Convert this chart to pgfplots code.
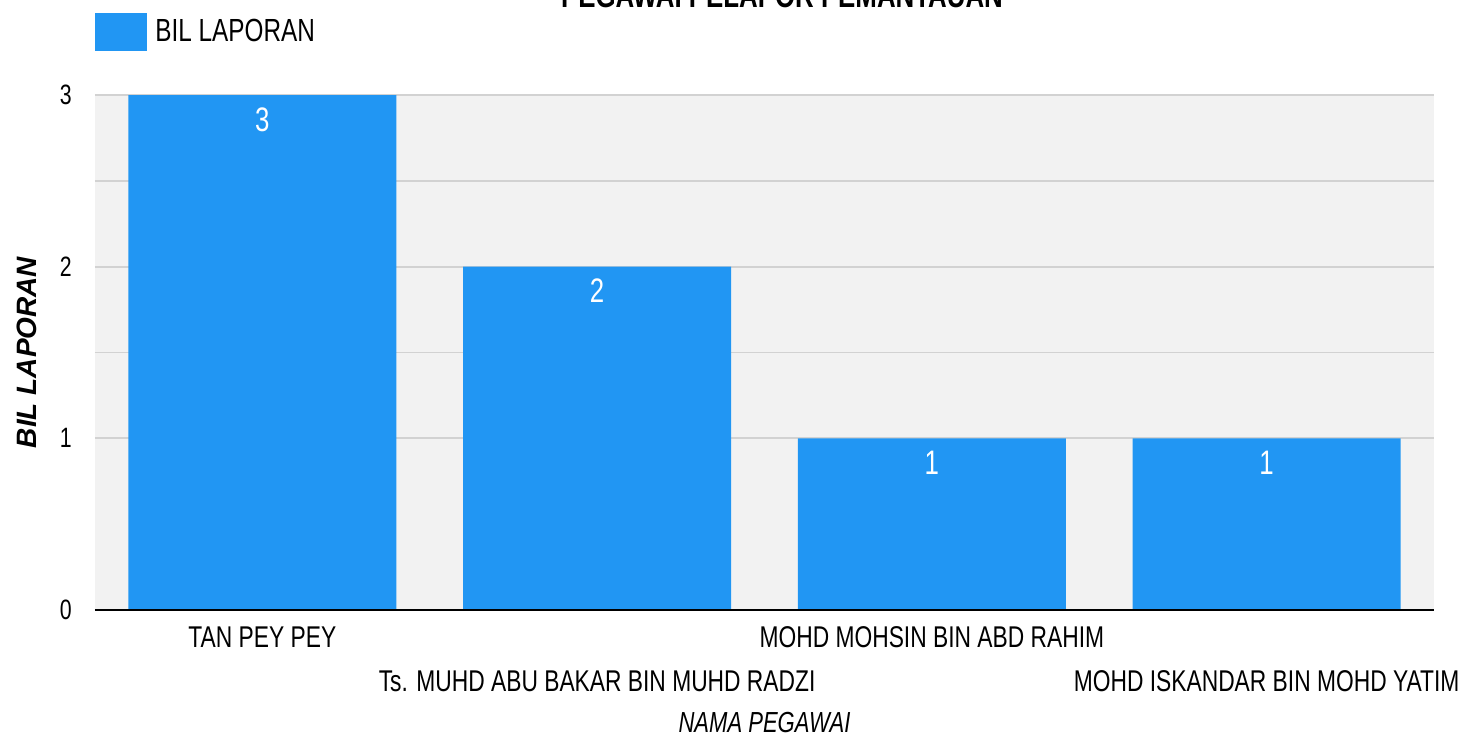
\documentclass[border=0pt]{standalone}
\usepackage{fontspec}
\setmainfont{Liberation Sans}[FakeStretch=0.76]
\newfontfamily\widefont{Liberation Sans}
\usepackage{pgfplots}
\pgfplotsset{compat=1.18}
\definecolor{barblue}{HTML}{2196F3}
\definecolor{plotbg}{HTML}{F2F2F2}
\definecolor{gridgray}{HTML}{D2D2D2}

\begin{document}
\begin{tikzpicture}
\begin{axis}[
  scale only axis,
  width=669.5pt, height=257.5pt,
  xmin=-0.5, xmax=3.5, ymin=0, ymax=3,
  ybar, bar width=0.8,
  axis background/.style={fill=plotbg},
  axis line style={draw=none},
  major tick length=0pt, minor tick length=0pt,
  ytick={1,2,3}, minor y tick num=1,
  extra y ticks={0},
  ymajorgrids, yminorgrids,
  grid style={gridgray, line width=0.9pt},
  /pgf/number format/assume math mode=true,
  yticklabel style={font=\fontsize{14}{16}\selectfont, inner sep=0pt, xshift=-11.5pt},
  xtick={0,2},
  xticklabels={TAN PEY PEY, MOHD MOHSIN BIN ABD RAHIM},
  extra x ticks={1,3},
  extra x tick labels={Ts. MUHD ABU BAKAR BIN MUHD RADZI, MOHD ISKANDAR BIN MOHD YATIM},
  extra x tick style={xticklabel style={yshift=-22pt}, xmajorgrids=false},
  xticklabel style={font=\fontsize{15}{17}\selectfont, inner sep=0pt, yshift=-8pt, text=black},
  xlabel={NAMA PEGAWAI},
  xlabel style={at={(axis description cs:0.5,-0.2175)}, anchor=center, font=\fontsize{14.5}{17}\selectfont\itshape},
  ylabel={BIL LAPORAN},
  ylabel style={at={(axis description cs:-0.0508,0.5)}, anchor=center, font=\widefont\fontsize{14}{16}\selectfont\bfseries\itshape},
  nodes near coords,
  nodes near coords style={white, anchor=north, inner sep=0pt, yshift=-6pt, font=\fontsize{17}{19}\selectfont},
  legend style={at={(axis description cs:0,1)}, anchor=west, yshift=31.5pt, draw=none, fill=none, inner sep=0pt,
    font=\fontsize{16}{18}\selectfont, legend cell align=left},
  legend image code/.code={\fill[barblue] (0pt,-9.5pt) rectangle (26pt,9.5pt);},
  clip=false,
]
\addplot[fill=barblue, draw=none] coordinates {(0,3) (1,2) (2,1) (3,1)};
\addlegendentry{\hspace{2pt}BIL LAPORAN}
\draw[black, line width=1.1pt] (rel axis cs:0,0) -- (rel axis cs:1,0);
\node[font=\fontsize{17}{19}\selectfont\bfseries, anchor=base] at ([xshift=8.75pt, yshift=44pt]rel axis cs:0.5,1) {PEGAWAI PELAPOR PEMANTAUAN};
\coordinate (o) at (rel axis cs:0,0);
\end{axis}
\pgfresetboundingbox
\useasboundingbox ([xshift=-47.5pt, yshift=-63pt]o) rectangle ([xshift=684.5pt, yshift=305pt]o);
\end{tikzpicture}
\end{document}
